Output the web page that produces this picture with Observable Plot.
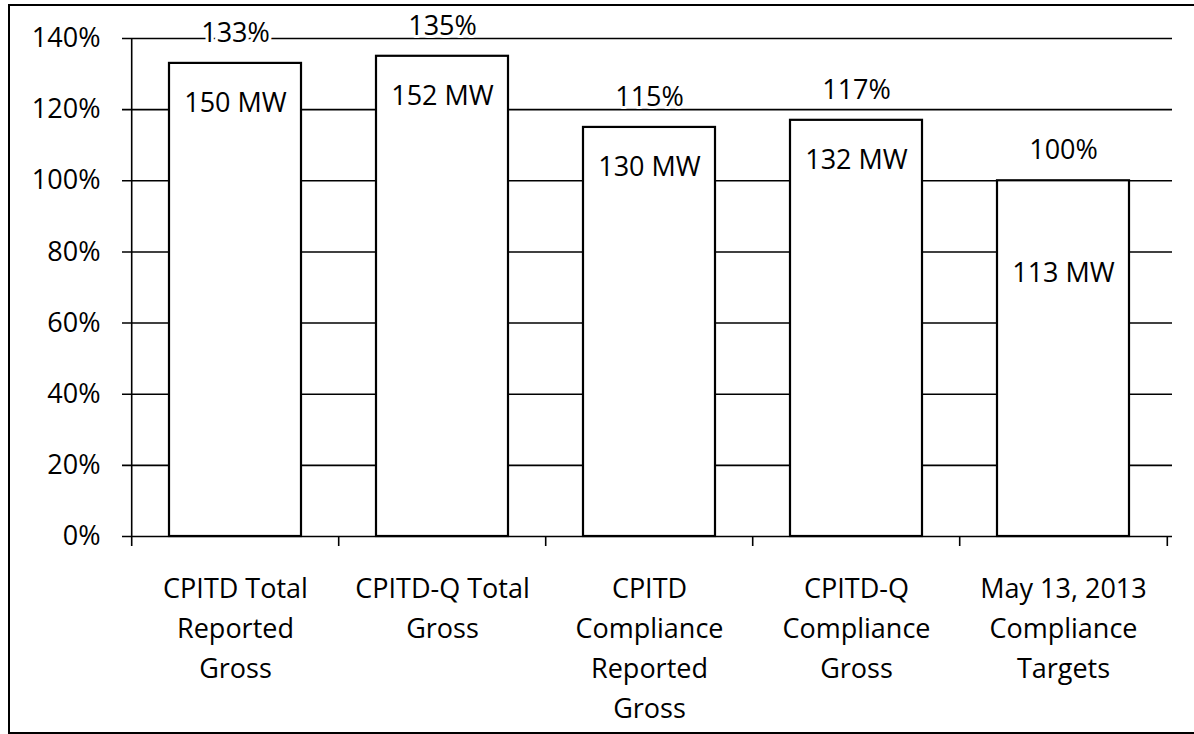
<!DOCTYPE html>
<html><head><meta charset="utf-8">
<script src="https://cdn.jsdelivr.net/npm/d3@7"></script>
<script src="https://cdn.jsdelivr.net/npm/@observablehq/plot@0.6"></script>
<style>
body{margin:0;background:#fff;}
#wrap{position:relative;width:1194px;height:734px;overflow:hidden;}
#border{position:absolute;left:8px;top:4px;width:1190px;height:730px;border-left:2px solid #000;border-top:2px solid #000;border-bottom:2px solid #000;box-sizing:border-box;}
#chart{position:absolute;left:0;top:0;}
</style></head><body>
<div id="wrap"><div id="border"></div><div id="chart"></div></div>
<script>
const categories = ["CPITD Total\nReported\nGross", "CPITD-Q Total\nGross", "CPITD\nCompliance\nReported\nGross", "CPITD-Q\nCompliance\nGross", "May 13, 2013\nCompliance\nTargets"];
const percentOfTarget = [1.33, 1.35, 1.15, 1.17, 1.00];
const megawatts = [150, 152, 130, 132, 113];
const yTicks = [0, 0.2, 0.4, 0.6, 0.8, 1.0, 1.2, 1.4];

const rows = categories.map((c, i) => ({category: c, pct: percentOfTarget[i], mw: megawatts[i], i}));
const W = 1194, H = 734, ML = 130, MR = 26, MT = 38, MB = 198;
const half = (W - ML - MR) / categories.length / 2;
const pctFmt = d => Math.round(d * 100) + "%";

const chart = Plot.plot({
  width: W, height: H,
  marginLeft: ML, marginRight: MR, marginTop: MT, marginBottom: MB,
  style: {fontFamily: "'Open Sans', sans-serif", fontSize: "27px", color: "black", background: "transparent"},
  x: {domain: categories, paddingInner: 0.364, paddingOuter: 0.182, axis: null},
  y: {domain: [0, 1.4]},
  marks: [
    Plot.ruleY(yTicks, {stroke: "black", strokeWidth: 1.6, insetLeft: -8, insetRight: -4}),
    Plot.ruleX([categories[0]], {y1: 1.4, y2: 0, dx: -half, insetBottom: -10, stroke: "black", strokeWidth: 1.6}),
    Plot.ruleX(categories.slice(1), {y1: 0, y2: 0, dx: -half, insetBottom: -10, stroke: "black", strokeWidth: 1.6}),
    Plot.ruleX([categories[categories.length - 1]], {y1: 0, y2: 0, dx: half, insetBottom: -10, stroke: "black", strokeWidth: 1.6}),
    Plot.barY(rows, {x: "category", y: "pct", fill: "white", stroke: "black", strokeWidth: 2.2}),
    Plot.axisY(yTicks, {tickSize: 0, tickPadding: 30, tickFormat: pctFmt, label: null, fontSize: 27}),
    Plot.text(rows, {x: "category", y: "pct", text: d => pctFmt(d.pct), dy: -30, fill: "white", stroke: "white", strokeWidth: 6, strokeLinejoin: "round", fontSize: 27}),
    Plot.text(rows, {x: "category", y: "pct", text: d => pctFmt(d.pct), dy: -30, fill: "black", fontSize: 27}),
    Plot.text(rows.filter(d => d.i < 4), {x: "category", y: "pct", text: d => d.mw + " MW", dy: 40, fill: "black", fontSize: 27}),
    Plot.text(rows.filter(d => d.i === 4), {x: "category", y: "pct", text: d => d.mw + " MW", dy: 93, fill: "black", fontSize: 27}),
    Plot.text(rows, {x: "category", y: 0, text: "category", dy: 33, lineAnchor: "top", lineHeight: 1.48, fill: "black", fontSize: 27})
  ]
});
document.getElementById("chart").appendChild(chart);
</script>
</body></html>
